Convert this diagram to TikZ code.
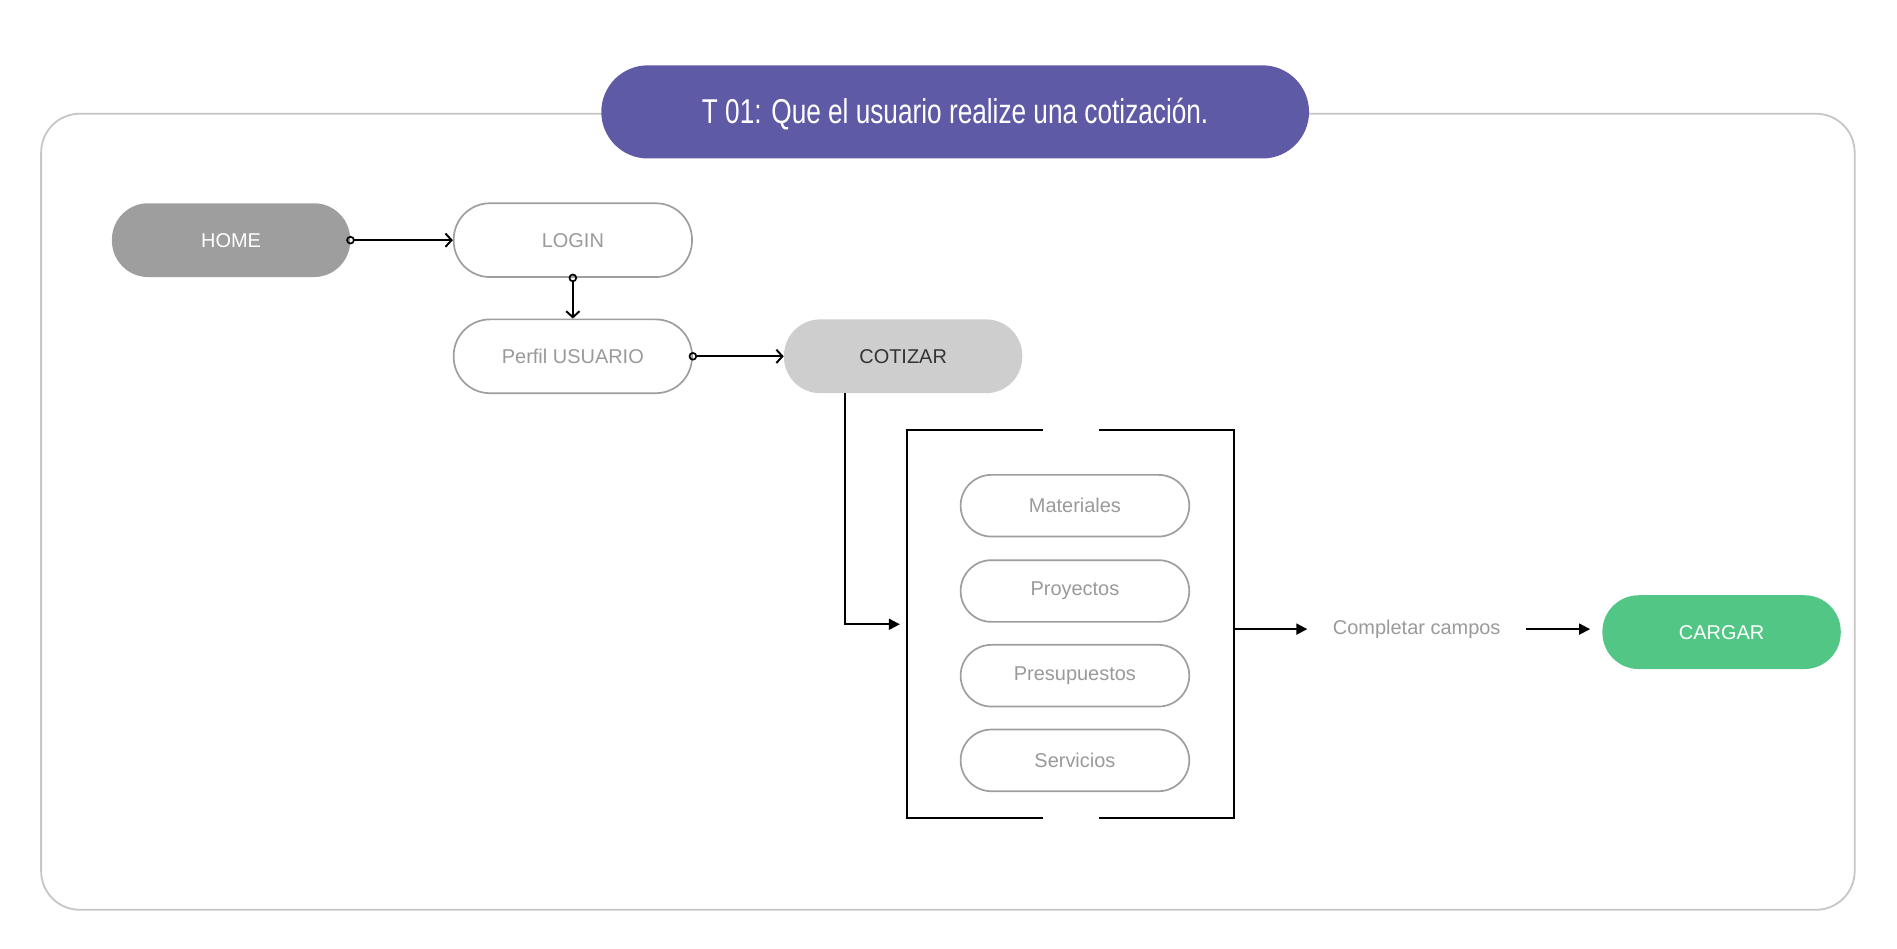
\documentclass[tikz,border=0pt]{standalone}
\usepackage{fontspec}
\setmainfont{Liberation Sans}
\newfontfamily\condfont[FakeStretch=0.76]{Liberation Sans}
\usetikzlibrary{arrows.meta}
\definecolor{framegray}{HTML}{C6C6C6}
\definecolor{pillgray}{HTML}{9E9E9E}
\definecolor{txtgray}{HTML}{9A9A9A}
\definecolor{titlepurple}{HTML}{5E5AA6}
\definecolor{cargreen}{HTML}{52C785}
\definecolor{cotgray}{HTML}{CECECE}
\definecolor{darktxt}{HTML}{333333}
\tikzset{
  pill/.style={rectangle, rounded corners=30pt, minimum width=197pt, minimum height=61pt, inner sep=0pt,
    font=\fontsize{16.5}{19}\selectfont},
  outlinepill/.style={pill, draw=pillgray, line width=1.4pt, fill=white, text=txtgray},
  itempill/.style={rectangle, rounded corners=25.5pt, minimum width=189pt, minimum height=51pt, inner sep=0pt,
    draw=pillgray, line width=1.4pt, fill=white, text=txtgray, font=\fontsize{16.5}{19}\selectfont},
  flowopen/.style={line width=1.6pt, {Circle[open,length=7pt,width=7pt,line width=1.4pt]}-{Straight Barb[length=5pt,width=11pt,line width=1.6pt]}, shorten <=-3.5pt},
  flowfill/.style={line width=1.6pt, -{Triangle[length=9pt,width=9pt]}},
}
\begin{document}
\begin{tikzpicture}[x=1pt,y=-1pt]
\useasboundingbox (0,0) rectangle (1568,784);
% outer frame
\draw[framegray, line width=1.5pt, rounded corners=32pt] (34,94) rectangle (1533,752);
% title
\node (title) [rectangle, rounded corners=38.5pt, minimum width=585pt, minimum height=77pt, fill=titlepurple] at (789.5,92.5) {};
\node (titletext) [text=white, font=\condfont\fontsize{28.5}{32}\selectfont] at (789.5,94.5) {T 01: Que el usuario realize una cotización.};
% nodes
\node (home) [pill, fill=pillgray, text=white] at (191,198.5) {HOME};
\node (login) [outlinepill] at (473.5,198.5) {LOGIN};
\node (perfil) [outlinepill] at (473.5,294.5) {Perfil USUARIO};
\node (cot) [pill, fill=cotgray, text=darktxt] at (746.5,294.5) {COTIZAR};
\node (grp) [rectangle, minimum width=270pt, minimum height=320pt, inner sep=0pt] at (885,516) {};
\draw[line width=1.6pt] ([xshift=-23pt]grp.north) -- (grp.north west) -- (grp.south west) -- ([xshift=-23pt]grp.south);
\draw[line width=1.6pt] ([xshift=23pt]grp.north) -- (grp.north east) -- (grp.south east) -- ([xshift=23pt]grp.south);
\node (mat) [itempill] at (888.5,418) {Materiales};
\node (proy) [itempill] at (888.5,488.5) {Proyectos};
\node (pres) [itempill] at (888.5,558.5) {Presupuestos};
\node (serv) [itempill] at (888.5,628.5) {Servicios};
\node (comp) [inner xsep=21pt, inner ysep=3pt, text=txtgray, font=\fontsize{16.5}{19}\selectfont] at (1171,520) {Completar campos};
\node (carg) [pill, fill=cargreen, text=white] at (1423,522.5) {CARGAR};
% connectors
\draw[flowopen] (home.east) -- (login.west);
\draw[flowopen] (login.south) -- (perfil.north);
\draw[flowopen] (perfil.east) -- (cot.west);
\draw[flowfill, shorten >=6pt] ([xshift=-48pt]cot.south) |- (grp.west);
\draw[flowfill] (grp.east |- comp.west) -- (comp.west);
\draw[flowfill, shorten >=10pt] (comp.east) -- (carg.west |- comp.east);
\end{tikzpicture}
\end{document}
